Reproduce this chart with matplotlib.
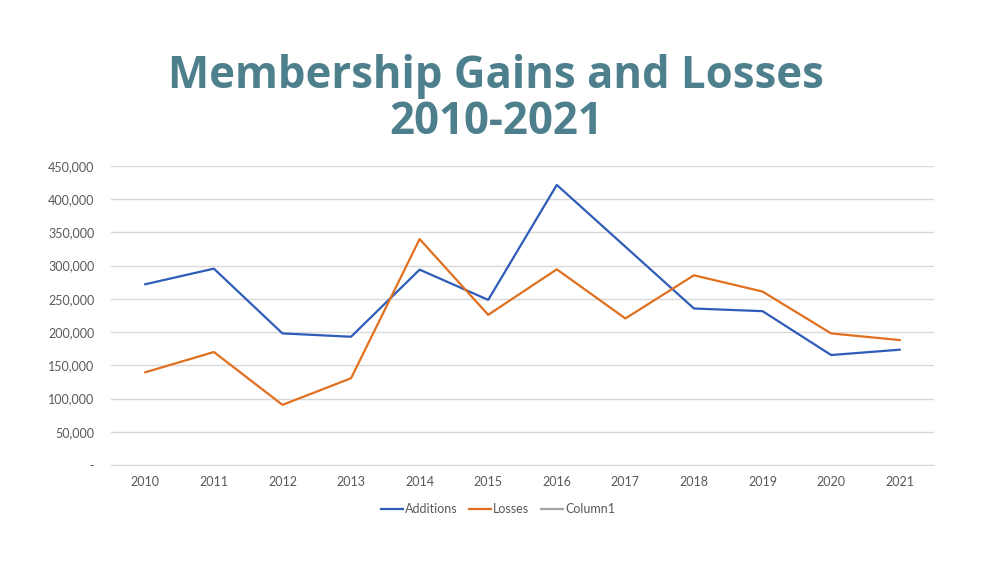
import matplotlib
matplotlib.use("Agg")
import matplotlib.pyplot as plt
from matplotlib.ticker import FuncFormatter

years = ["2010", "2011", "2012", "2013", "2014", "2015",
         "2016", "2017", "2018", "2019", "2020", "2021"]
additions = [272000, 295500, 198000, 193000, 294000, 248500,
             421500, 328500, 235500, 231500, 165500, 173500]
losses = [139500, 170000, 90500, 130500, 340000, 226000,
          294500, 220500, 285500, 261000, 198000, 188000]
column1 = []

fig = plt.figure(figsize=(10, 5.81), dpi=100)
ax = fig.add_axes([0.111, 0.1997, 0.823, 0.5146])

x = list(range(len(years)))
ax.plot(x, additions, color="#2F5CB8", lw=1.6, label="Additions")
ax.plot(x, losses, color="#E0701F", lw=1.6, label="Losses")
ax.plot(column1, column1, color="#A5A5A5", lw=1.6, label="Column1")

ax.set_xlim(-0.5, len(years) - 0.5)
ax.set_ylim(0, 450000)
ax.set_yticks(range(0, 450001, 50000))
ax.yaxis.set_major_formatter(FuncFormatter(lambda v, p: "-" if v == 0 else f"{int(v):,}"))
ax.set_xticks(x)
ax.set_xticklabels(years)

ax.grid(axis="y", color="#D9D9D9", lw=1)
ax.set_axisbelow(True)
for s in ["top", "right", "left"]:
    ax.spines[s].set_visible(False)
ax.spines["bottom"].set_color("#D9D9D9")
ax.tick_params(length=0, labelsize=9, labelcolor="#595959", pad=8)
ax.tick_params(axis="y", pad=12)
for lab in ax.get_xticklabels() + ax.get_yticklabels():
    lab.set_family("Lato")

# title in two lines, placed by baseline
title_kw = dict(ha="center", va="baseline", fontsize=31.5, fontweight="bold",
                color="#4E7F8C", family="Open Sans")
fig.text(0.496, 0.8485, "Membership Gains and Losses", **title_kw)
fig.text(0.496, 0.7694, "2010-2021", **title_kw)

leg = ax.legend(loc="upper center", bbox_to_anchor=(0.47, -0.09), ncol=3, frameon=False,
                fontsize=9, handlelength=1.8, handletextpad=0.15, columnspacing=0.9)
for t in leg.get_texts():
    t.set_color("#595959")
    t.set_family("Lato")

fig.savefig("out.png", dpi=100)
